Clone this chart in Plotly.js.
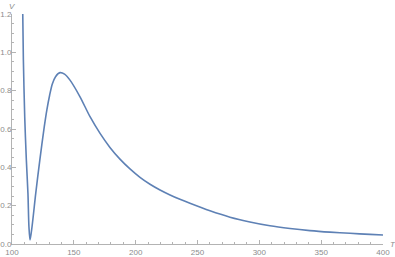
<!DOCTYPE html>
<html>
<head>
<meta charset="utf-8">
<script src="https://cdn.plot.ly/plotly-3.0.1.min.js"></script>
<style>
  html, body { margin: 0; padding: 0; background: #fff; }
  #chart { width: 395px; height: 257px; }
</style>
</head>
<body>
<div id="chart"></div>
<script>
var tValues = [108.7, 109.2, 110.3, 111.6, 112.9, 113.7, 114.6, 116.2, 119.2, 122.5, 126.1, 128.2, 130.4, 132.6, 135.2, 138.8,
               142.5, 146.9, 155, 163.1, 171.2, 179.2, 187.3, 195.4, 203.5, 211.6, 219.7, 227.8, 235.8, 243.9,
               260.1, 276.3, 292.4, 308.6, 324.8, 340.9, 357.1, 373.3, 389.5, 400];
var vValues = [1.2, 0.96, 0.66, 0.438, 0.264, 0.09, 0.021, 0.09, 0.264, 0.438, 0.612, 0.70, 0.775, 0.835, 0.873, 0.894,
               0.886, 0.855, 0.768, 0.664, 0.577, 0.504, 0.443, 0.392, 0.348, 0.312, 0.282, 0.256, 0.233, 0.212,
               0.173, 0.140, 0.115, 0.095, 0.081, 0.070, 0.062, 0.056, 0.050, 0.047];

var xTickVals = [100, 150, 200, 250, 300, 350, 400];
var yTickVals = [0.0, 0.2, 0.4, 0.6, 0.8, 1.0, 1.2];
var yTickText = ["0.0", "0.2", "0.4", "0.6", "0.8", "1.0", "1.2"];

var axisColor = "#b3b3b3";
var labelFont = { family: "Liberation Sans, Arial, sans-serif", size: 8, color: "#8c8c8c" };

var curve = {
    x: tValues,
    y: vValues,
    type: "scatter",
    mode: "lines",
    line: { color: "#5e81b5", width: 1.6, shape: "spline", smoothing: 0.8 },
    hoverinfo: "none"
};

var layout = {
    width: 395,
    height: 257,
    margin: { l: 12, r: 12, t: 14, b: 13 },
    paper_bgcolor: "#fff",
    plot_bgcolor: "#fff",
    showlegend: false,
    xaxis: {
        range: [100, 400],
        showgrid: false,
        zeroline: false,
        showline: true,
        linecolor: axisColor,
        linewidth: 1,
        ticks: "inside",
        ticklen: 4,
        tickcolor: axisColor,
        tickvals: xTickVals,
        tickfont: labelFont,
        ticklabelstandoff: 0,
        minor: { dtick: 10, tick0: 100, ticks: "inside", ticklen: 2, tickcolor: axisColor, showgrid: false }
    },
    yaxis: {
        range: [0, 1.2],
        showgrid: false,
        zeroline: false,
        showline: true,
        linecolor: axisColor,
        linewidth: 1,
        ticks: "inside",
        ticklen: 4,
        tickcolor: axisColor,
        tickvals: yTickVals,
        ticktext: yTickText,
        tickfont: labelFont,
        ticklabelstandoff: -2,
        minor: { dtick: 0.05, tick0: 0, ticks: "inside", ticklen: 2, tickcolor: axisColor, showgrid: false }
    },
    annotations: [
        { text: "<i>V</i>", xref: "paper", yref: "paper", x: 0, y: 1, xanchor: "center", yanchor: "bottom",
          yshift: 1, showarrow: false, font: labelFont },
        { text: "<i>T</i>", xref: "paper", yref: "paper", x: 1, y: 0, xanchor: "left", yanchor: "middle",
          xshift: 5, showarrow: false, font: labelFont }
    ]
};

Plotly.newPlot("chart", [curve], layout, { displayModeBar: false, staticPlot: true });
</script>
</body>
</html>
